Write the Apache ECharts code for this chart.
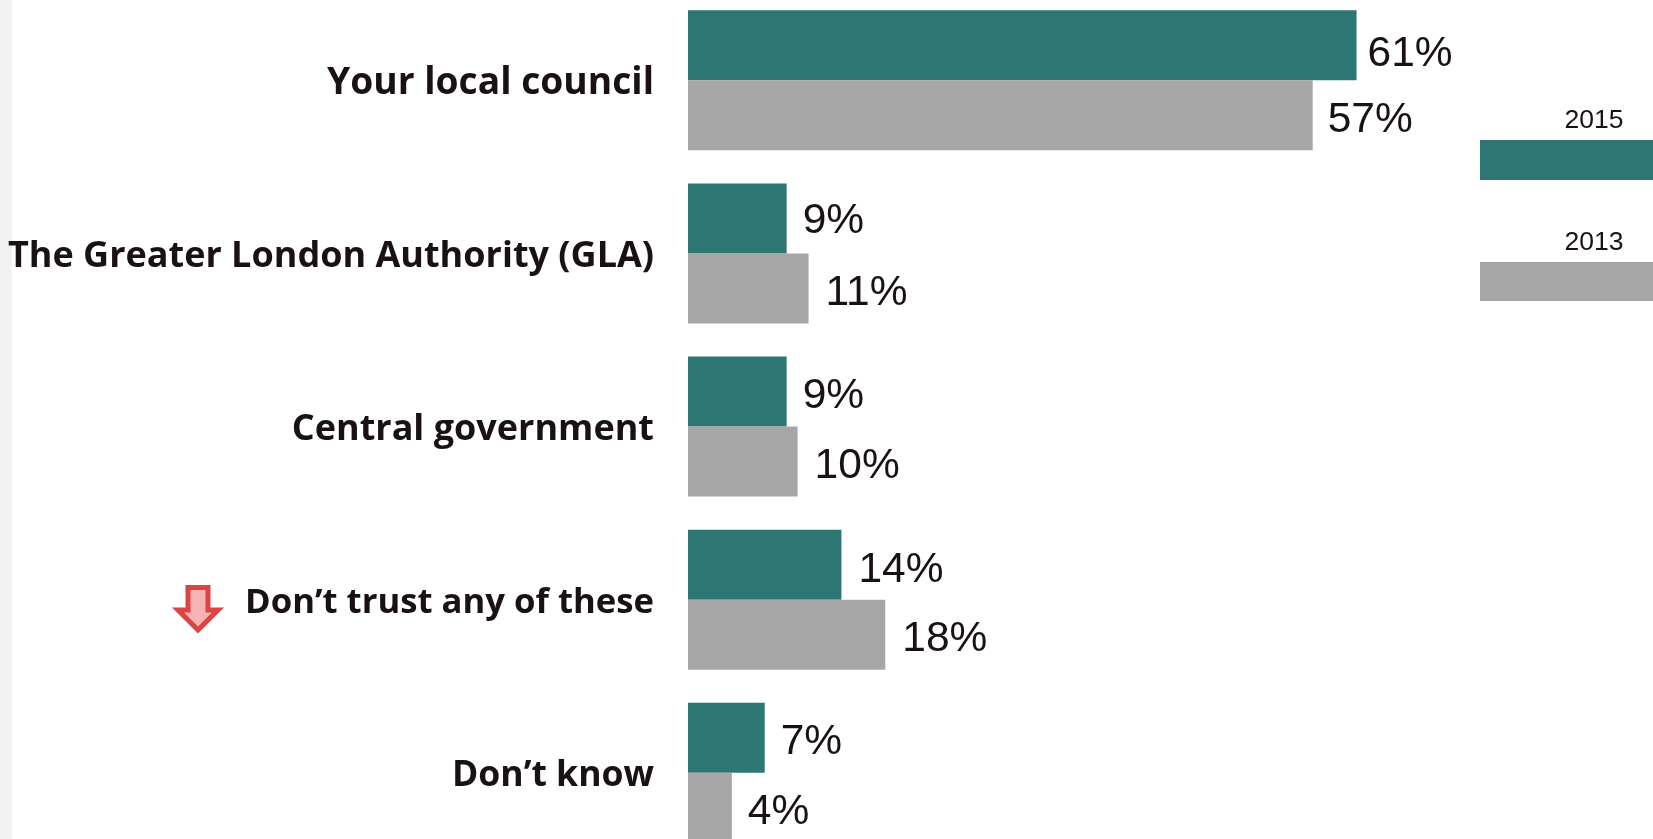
<!DOCTYPE html>
<html>
<head>
<meta charset="utf-8">
<style>html,body{margin:0;padding:0;background:#fff}#c{width:1653px;height:839px}</style>
<script src="https://cdn.jsdelivr.net/npm/echarts@6/dist/echarts.min.js"></script>
</head>
<body>
<div id="c"></div>
<script>
const categories = ["Your local council","The Greater London Authority (GLA)","Central government","Don\u2019t trust any of these","Don\u2019t know"];
const values2015 = [61,9,9,14,7];
const values2013 = [57,11,10,18,4];
const seriesNames = ["2015","2013"];
const teal = "#2d7674", grey = "#a6a6a6", ink = "#1a1112";

// hand-placed label nudges seen in the reference (style only, not data)
const catFontSizes = [37.2,36,36,34.7,35.6];
const topLabelDy = [9,3,5,6,5];
const topLabelDist = [11,16,16,17,16];
const lowLabelDist = [15,17,17,17,16];

const catRich = {};
catFontSizes.forEach((s,i)=>{ catRich['c'+i] = {fontSize:s, fontFamily:'"Open Sans",sans-serif', fontWeight:700, color:ink, padding:[6,0,0,0]}; });

const chart = echarts.init(document.getElementById('c'), null, {renderer:'canvas'});
const lbl = {show:true, position:'right', formatter:'{c}%',
  fontFamily:'"Liberation Sans",Arial,sans-serif', fontSize:42.5, color:ink};
chart.setOption({
  animation:false,
  backgroundColor:'#fff',
  grid:{left:688, top:-6.2, width:964.5, height:865.5, containLabel:false, outerBoundsMode:'none'},
  xAxis:{type:'value', min:0, max:88, show:false},
  yAxis:{type:'category', inverse:true, data:categories,
    axisLine:{show:false}, axisTick:{show:false},
    axisLabel:{margin:34, align:'right', rich:catRich,
      formatter:(v,i)=>'{c'+i+'|'+v+'}'}},
  series:[
    {name:seriesNames[0], type:'bar', barWidth:70, barGap:0, itemStyle:{color:teal},
      data:values2015.map((v,i)=>({value:v, label:{...lbl, distance:topLabelDist[i], offset:[0,topLabelDy[i]]}}))},
    {name:seriesNames[1], type:'bar', barWidth:70, barGap:0, itemStyle:{color:grey},
      data:values2013.map((v,i)=>({value:v, label:{...lbl, distance:lowLabelDist[i], offset:[0,5]}}))}
  ],
  graphic:[
    {type:'rect', shape:{x:0,y:0,width:12,height:839}, style:{fill:'#f2f2f2'}},
    {type:'polygon', shape:{points:[[188,587.5],[208,587.5],[208,610],[218,610],[198,630],[178,610],[188,610]]},
      style:{fill:'#f4b4b4', stroke:'#dc4343', lineWidth:5, lineJoin:'miter'}},
    {type:'text', style:{text:seriesNames[0], x:1594, y:121, align:'center', verticalAlign:'middle', fontFamily:'"Liberation Sans",Arial,sans-serif', fontSize:26.5, fill:ink}},
    {type:'rect', shape:{x:1480,y:140,width:173,height:40}, style:{fill:teal}},
    {type:'text', style:{text:seriesNames[1], x:1594, y:243, align:'center', verticalAlign:'middle', fontFamily:'"Liberation Sans",Arial,sans-serif', fontSize:26.5, fill:ink}},
    {type:'rect', shape:{x:1480,y:262,width:173,height:39}, style:{fill:grey}}
  ]
});
</script>
</body>
</html>
